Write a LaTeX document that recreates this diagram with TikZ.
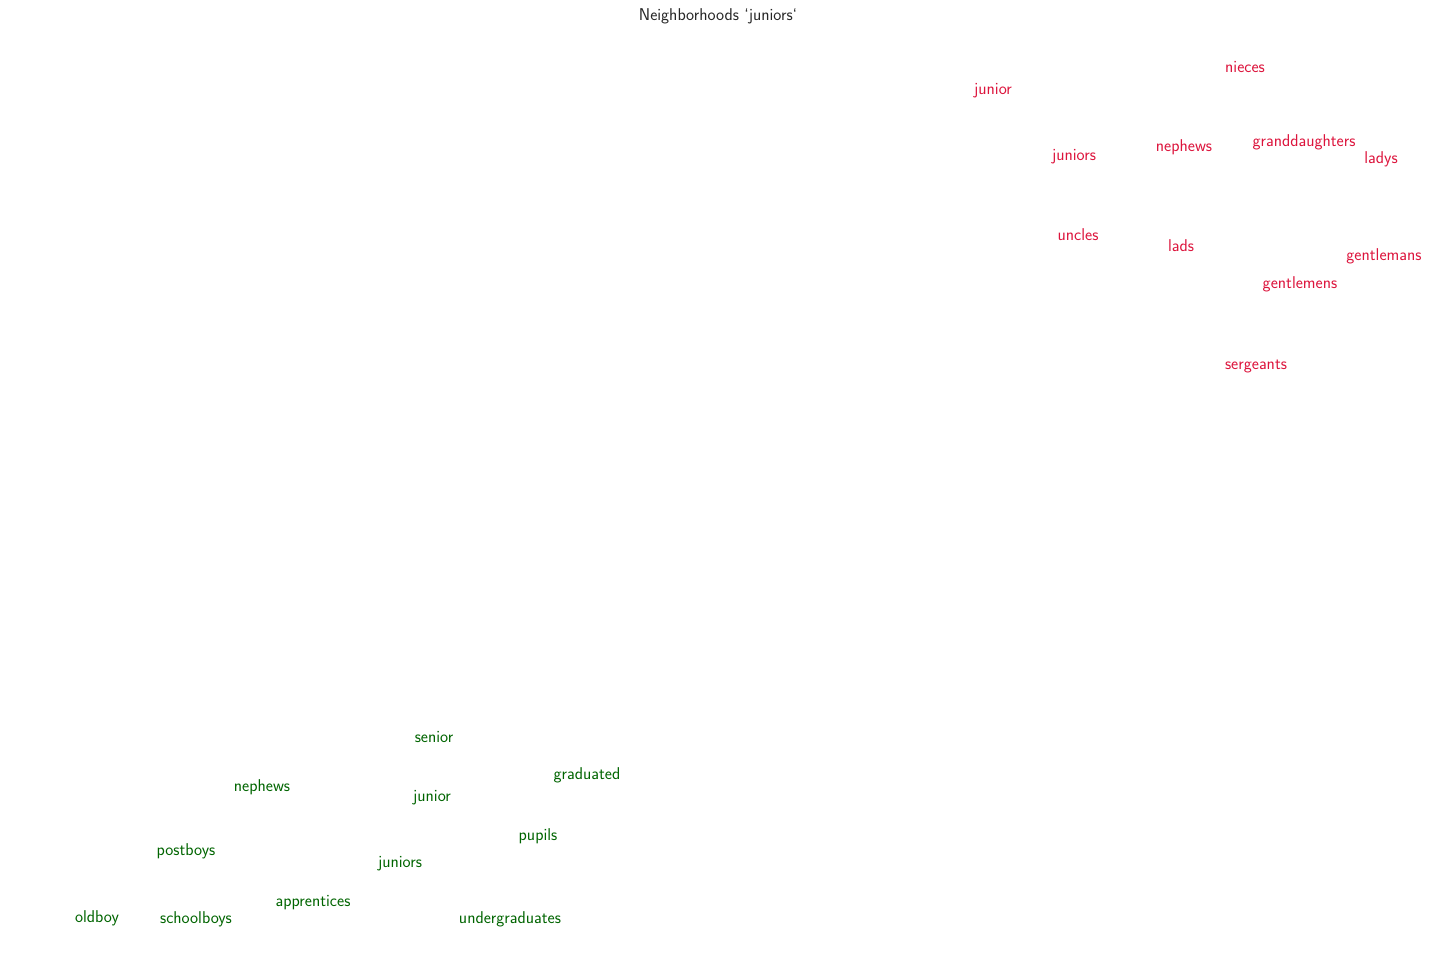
\documentclass[tikz,border=0pt]{standalone}
\usepackage{fontspec}
\setsansfont{Latin Modern Sans}
\definecolor{redword}{HTML}{DC143C}
\definecolor{greenword}{HTML}{006400}
\definecolor{titlegray}{HTML}{262626}
\begin{document}
\begin{tikzpicture}[x=1pt,y=-1pt,
  word/.style={inner sep=0pt,anchor=center,font=\sffamily\fontsize{17.1}{20}\selectfont},
  redw/.style={word,text=redword},
  greenw/.style={word,text=greenword}]
\useasboundingbox (0,0) rectangle (1439,976);
\node[word,text=titlegray] (title) at (718,16.5) {Neighborhoods `juniors`};
% first neighbourhood
\node[redw] (r1) at (1245,67.5) {nieces};
\node[redw] (r2) at (993,91) {junior};
\node[redw] (r3) at (1074,157) {juniors};
\node[redw] (r4) at (1184,147) {nephews};
\node[redw] (r5) at (1304,142) {granddaughters};
\node[redw] (r6) at (1381,159) {ladys};
\node[redw] (r7) at (1078,234.5) {uncles};
\node[redw] (r8) at (1181,245.5) {lads};
\node[redw] (r9) at (1384,256) {gentlemans};
\node[redw] (r10) at (1300,284) {gentlemens};
\node[redw] (r11) at (1256,367) {sergeants};
% second neighbourhood
\node[greenw] (g1) at (434,737.5) {senior};
\node[greenw] (g2) at (587,775) {graduated};
\node[greenw] (g3) at (262,787) {nephews};
\node[greenw] (g4) at (432,798) {junior};
\node[greenw] (g5) at (538,836) {pupils};
\node[greenw] (g6) at (186,851) {postboys};
\node[greenw] (g7) at (400,864) {juniors};
\node[greenw] (g8) at (313,902.5) {apprentices};
\node[greenw] (g9) at (97,918) {oldboy};
\node[greenw] (g10) at (196,919) {schoolboys};
\node[greenw] (g11) at (510,919) {undergraduates};
\end{tikzpicture}
\end{document}
